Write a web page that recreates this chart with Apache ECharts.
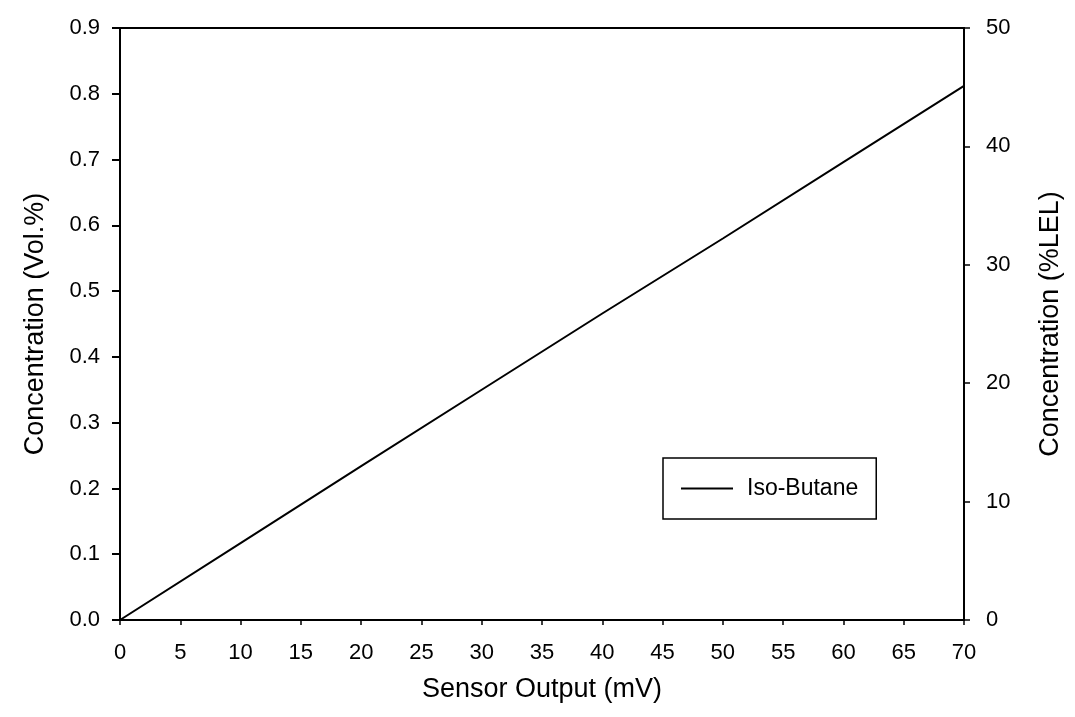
<!DOCTYPE html>
<html>
<head>
<meta charset="utf-8">
<script src="https://cdn.jsdelivr.net/npm/echarts@6/dist/echarts.min.js"></script>
<style>
  html, body { margin: 0; padding: 0; background: #fff; }
  #chart { width: 1075px; height: 717px; }
</style>
</head>
<body>
<div id="chart"></div>
<script>
// sensor output (mV) vs concentration (Vol.%)
var sensorOutput = [0, 10, 20, 30, 40, 50, 60, 70];
var isoButane = [0, 0.117, 0.234, 0.350, 0.466, 0.580, 0.696, 0.812];

var seriesData = sensorOutput.map(function (x, i) { return [x, isoButane[i]]; });

var myChart = echarts.init(document.getElementById('chart'));
var font = 'Liberation Sans, Arial, sans-serif';

var option = {
    backgroundColor: '#fff',
    animation: false,
    textStyle: { fontFamily: font, color: '#000' },
    grid: {
        left: 120, right: 111, top: 28, bottom: 97,
        show: true, borderColor: '#000', borderWidth: 2, backgroundColor: 'transparent'
    },
    legend: {
        data: [{ name: 'Iso-Butane', icon: 'rect' }],
        left: 663, top: 458,
        orient: 'horizontal',
        padding: [19, 18, 19, 18],
        itemWidth: 52,
        itemHeight: 2,
        borderColor: '#000',
        borderWidth: 1.5,
        backgroundColor: '#fff',
        textStyle: { fontFamily: font, fontSize: 23, color: '#000', padding: [0, 0, 0, 9] }
    },
    xAxis: {
        type: 'value',
        min: 0, max: 70, interval: 5,
        name: 'Sensor Output (mV)',
        nameLocation: 'middle',
        nameGap: 56,
        nameTextStyle: { fontSize: 27, color: '#000', fontFamily: font },
        axisLine: { show: true, lineStyle: { color: '#000', width: 2 } },
        axisTick: { show: true, inside: false, length: 5, lineStyle: { color: '#000', width: 1.5 } },
        axisLabel: { fontSize: 22, color: '#000', margin: 22, fontFamily: font },
        splitLine: { show: false }
    },
    yAxis: [
        {
            type: 'value',
            min: 0, max: 0.9, interval: 0.1,
            name: 'Concentration (Vol.%)',
            nameLocation: 'middle',
            nameGap: 71,
            nameTextStyle: { fontSize: 27, color: '#000', fontFamily: font },
            axisLine: { show: true, lineStyle: { color: '#000', width: 2 } },
            axisTick: { show: true, inside: false, length: 8, lineStyle: { color: '#000', width: 2 } },
            axisLabel: {
                fontSize: 22, color: '#000', margin: 20, fontFamily: font,
                formatter: function (v) { return v.toFixed(1); }
            },
            splitLine: { show: false }
        },
        {
            type: 'value',
            position: 'right',
            min: 0, max: 50, interval: 10,
            name: 'Concentration (%LEL)',
            nameLocation: 'middle',
            nameGap: 73,
            nameRotate: 90,
            nameTextStyle: { fontSize: 27, color: '#000', fontFamily: font },
            axisLine: { show: true, lineStyle: { color: '#000', width: 2 } },
            axisTick: { show: true, inside: false, length: 6, lineStyle: { color: '#000', width: 1.5 } },
            axisLabel: { fontSize: 22, color: '#000', margin: 22, fontFamily: font },
            splitLine: { show: false }
        }
    ],
    series: [
        {
            name: 'Iso-Butane',
            type: 'line',
            yAxisIndex: 0,
            data: seriesData,
            symbol: 'none',
            lineStyle: { color: '#000', width: 2 },
            itemStyle: { color: '#000' }
        }
    ]
};
myChart.setOption(option);
</script>
</body>
</html>
